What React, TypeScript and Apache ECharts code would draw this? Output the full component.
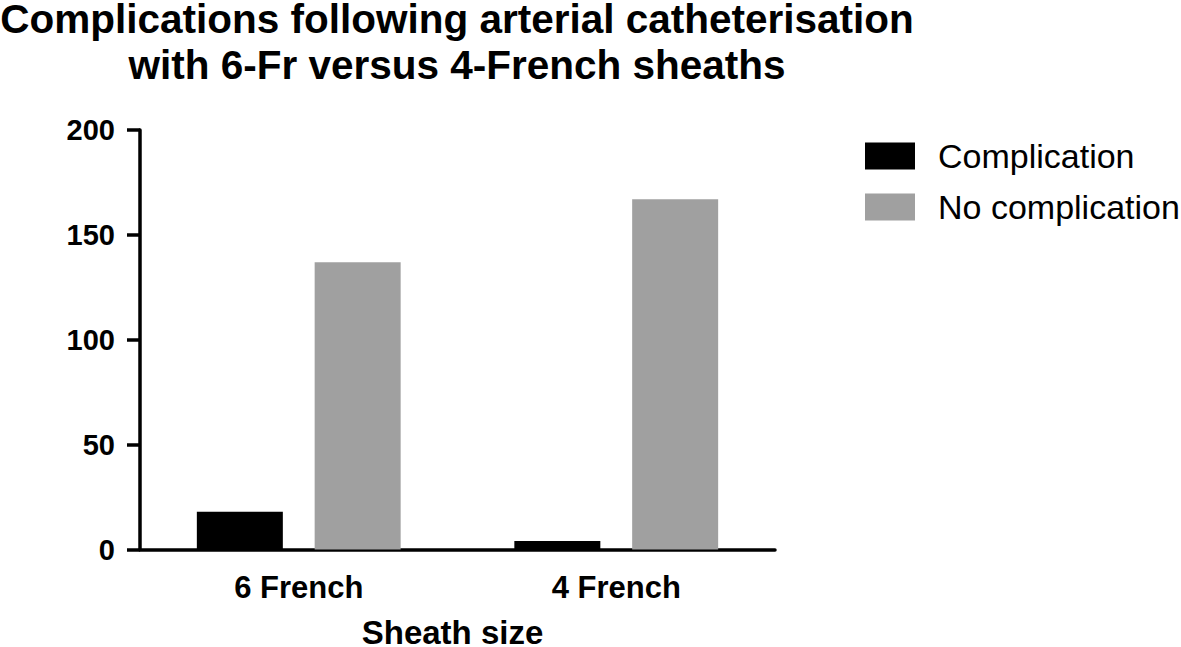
import React, { useEffect, useRef } from "react";
import * as echarts from "echarts";

const categories = ["6 French", "4 French"];
const complication = [18, 4];
const noComplication = [137, 167];
const yTicks = { min: 0, max: 200, interval: 50 };
const titleText = "Complications following arterial catheterisation\nwith 6-Fr versus 4-French sheaths";
const seriesNames = ["Complication", "No complication"];

const FONT = '"Liberation Sans", Arial, Helvetica, sans-serif';

export default function App() {
  const ref = useRef<HTMLDivElement>(null);
  useEffect(() => {
    if (!ref.current) return;
    const chart = echarts.init(ref.current, null, { renderer: "svg" });
    chart.setOption({
      animation: false,
      backgroundColor: "#ffffff",
      title: {
        text: titleText,
        left: 457,
        top: -4,
        padding: 0,
        textAlign: "center",
        textStyle: {
          fontFamily: FONT,
          fontWeight: "bold",
          fontSize: 40.5,
          lineHeight: 46,
          color: "#000",
        },
      },
      legend: {
        orient: "vertical",
        left: 865,
        top: 139,
        padding: 0,
        itemWidth: 50,
        itemHeight: 27,
        itemGap: 17,
        icon: "rect",
        data: seriesNames,
        textStyle: {
          fontFamily: FONT,
          fontSize: 34,
          color: "#000",
          padding: [0, 0, 0, 18],
        },
      },
      grid: { left: 140, width: 635, top: 130, height: 419.5, containLabel: false, outerBoundsMode: "none" },
      xAxis: {
        type: "category",
        data: categories,
        name: "Sheath size",
        nameLocation: "middle",
        nameGap: 66,
        nameTextStyle: {
          fontFamily: FONT,
          fontWeight: "bold",
          fontSize: 33,
          color: "#000",
          padding: [0, 10, 0, 0],
        },
        axisLine: { lineStyle: { color: "#000", width: 3.5 } },
        axisTick: { alignWithLabel: true, length: 10, lineStyle: { color: "#000", width: 3.5 } },
        axisLabel: { fontFamily: FONT, fontWeight: "bold", fontSize: 31, color: "#000", margin: 22 },
        splitLine: { show: false },
      },
      yAxis: {
        type: "value",
        min: yTicks.min,
        max: yTicks.max,
        interval: yTicks.interval,
        axisLine: { show: true, lineStyle: { color: "#000", width: 3.5 } },
        axisTick: { show: true, length: 13, lineStyle: { color: "#000", width: 3.5 } },
        axisLabel: { fontFamily: FONT, fontWeight: "bold", fontSize: 29, color: "#000", margin: 25 },
        splitLine: { show: false },
      },
      series: [
        {
          name: seriesNames[0],
          type: "bar",
          data: complication,
          barWidth: 86,
          barGap: "37%",
          itemStyle: { color: "#000000" },
        },
        {
          name: seriesNames[1],
          type: "bar",
          data: noComplication,
          barWidth: 86,
          barGap: "37%",
          itemStyle: { color: "#a0a0a0" },
        },
      ],
    });
    return () => chart.dispose();
  }, []);
  return (
    <div
      ref={ref}
      style={{ position: "fixed", left: 0, top: 0, width: 1181, height: 647, background: "#fff" }}
    />
  );
}
